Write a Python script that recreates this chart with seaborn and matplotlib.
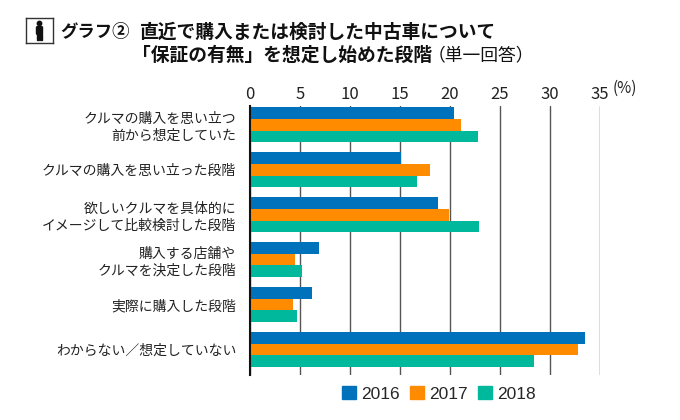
import matplotlib
matplotlib.use("Agg")
import matplotlib.pyplot as plt
import matplotlib.patches as mpatches
import seaborn as sns
import pandas as pd

categories = [
    "クルマの購入を思い立つ\n前から想定していた",
    "クルマの購入を思い立った段階",
    "欲しいクルマを具体的に\nイメージして比較検討した段階",
    "購入する店舗や\nクルマを決定した段階",
    "実際に購入した段階",
    "わからない／想定していない",
]
years = ["2016", "2017", "2018"]
v2016 = [20.4, 15.1, 18.8, 6.9, 6.2, 33.5]
v2017 = [21.1, 18.0, 19.9, 4.5, 4.3, 32.8]
v2018 = [22.8, 16.7, 22.9, 5.2, 4.7, 28.4]
xticks = [0, 5, 10, 15, 20, 25, 30, 35]
colors = ["#0072BC", "#FF8C00", "#00B89C"]

rows = []
for y, vals in zip(years, [v2016, v2017, v2018]):
    for c, v in zip(categories, vals):
        rows.append({"cat": c, "year": y, "val": v})
df = pd.DataFrame(rows)

sns.set_theme(style="white")
plt.rcParams["font.family"] = ["Noto Sans CJK JP", "DejaVu Sans"]

W, H = 680, 420
fig = plt.figure(figsize=(W / 100, H / 100), dpi=100)

def px(x0, y0, x1, y1):
    return [x0 / W, 1 - y1 / H, (x1 - x0) / W, (y1 - y0) / H]

ax = fig.add_axes(px(250, 106, 600, 375))
sns.barplot(data=df, y="cat", x="val", hue="year", order=categories,
            hue_order=years, palette=colors, orient="h", width=0.78,
            saturation=1, edgecolor="none", ax=ax, legend=False)
ax.set_xlim(0, 35)
ax.set_ylim(5.57, -0.42)
ax.set_xticks(xticks)
ax.xaxis.tick_top()
ax.tick_params(axis="x", length=0, pad=2, labelsize=12, labelcolor="#222222")
ax.tick_params(axis="y", length=0, pad=10, labelsize=10, labelcolor="#222222")
for lab in ax.get_yticklabels():
    lab.set_horizontalalignment("right")
    lab.set_linespacing(1.25)
ax.set_xlabel("")
ax.set_ylabel("")
ax.set_axisbelow(True)
ax.grid(axis="x", color="#555555", linewidth=1.0)
ax.grid(axis="y", visible=False)
for s in ["top", "right", "bottom"]:
    ax.spines[s].set_visible(False)
ax.spines["left"].set_color("#111111")
ax.spines["left"].set_linewidth(1.5)

fig.text(613 / W, 1 - 88 / H, "(%)", fontsize=11, color="#222222",
         ha="left", va="center")

# Title
TS = 13.5
fig.text(60 / W, 1 - 32 / H, "グラフ②", fontsize=12.5, fontweight="bold",
         ha="left", va="center", color="#111111")
fig.text(140 / W, 1 - 32 / H, "直近で購入または検討した中古車について",
         fontsize=TS, fontweight="bold", ha="left", va="center", color="#111111")
t2 = fig.text(132 / W, 1 - 55 / H, "「保証の有無」を想定し始めた段階", fontsize=TS,
              fontweight="bold", ha="left", va="center", color="#111111")
fig.canvas.draw()
bb = t2.get_window_extent()
fig.text(bb.x1 / W - 4 / W, 1 - 55 / H, "（単一回答）", fontsize=12.8,
         ha="left", va="center", color="#111111")

# Icon
iax = fig.add_axes(px(26, 18, 53, 43))
iax.set_xlim(0, 27)
iax.set_ylim(25, 0)
iax.set_xticks([])
iax.set_yticks([])
for s in iax.spines.values():
    s.set_color("#333333")
    s.set_linewidth(1.0)
iax.add_patch(mpatches.Circle((13.5, 5.5), 2.2, color="#111111"))
iax.add_patch(mpatches.FancyBboxPatch((10.5, 8.5), 6, 8, boxstyle="round,pad=0,rounding_size=1.2", color="#111111"))
iax.add_patch(mpatches.Rectangle((11.3, 15.5), 2.0, 6.5, color="#111111"))
iax.add_patch(mpatches.Rectangle((13.7, 15.5), 2.0, 6.5, color="#111111"))

handles = [mpatches.Patch(color=c, label=y) for c, y in zip(colors, years)]
fig.legend(handles=handles, loc="center", bbox_to_anchor=(439 / W, 1 - 394 / H),
           ncol=3, frameon=False, handlelength=0.8,
           handleheight=0.8, handletextpad=0.3, columnspacing=0.6,
           prop={"family": ["Liberation Sans", "DejaVu Sans"], "size": 12.5})

fig.savefig("out.png", dpi=100)
